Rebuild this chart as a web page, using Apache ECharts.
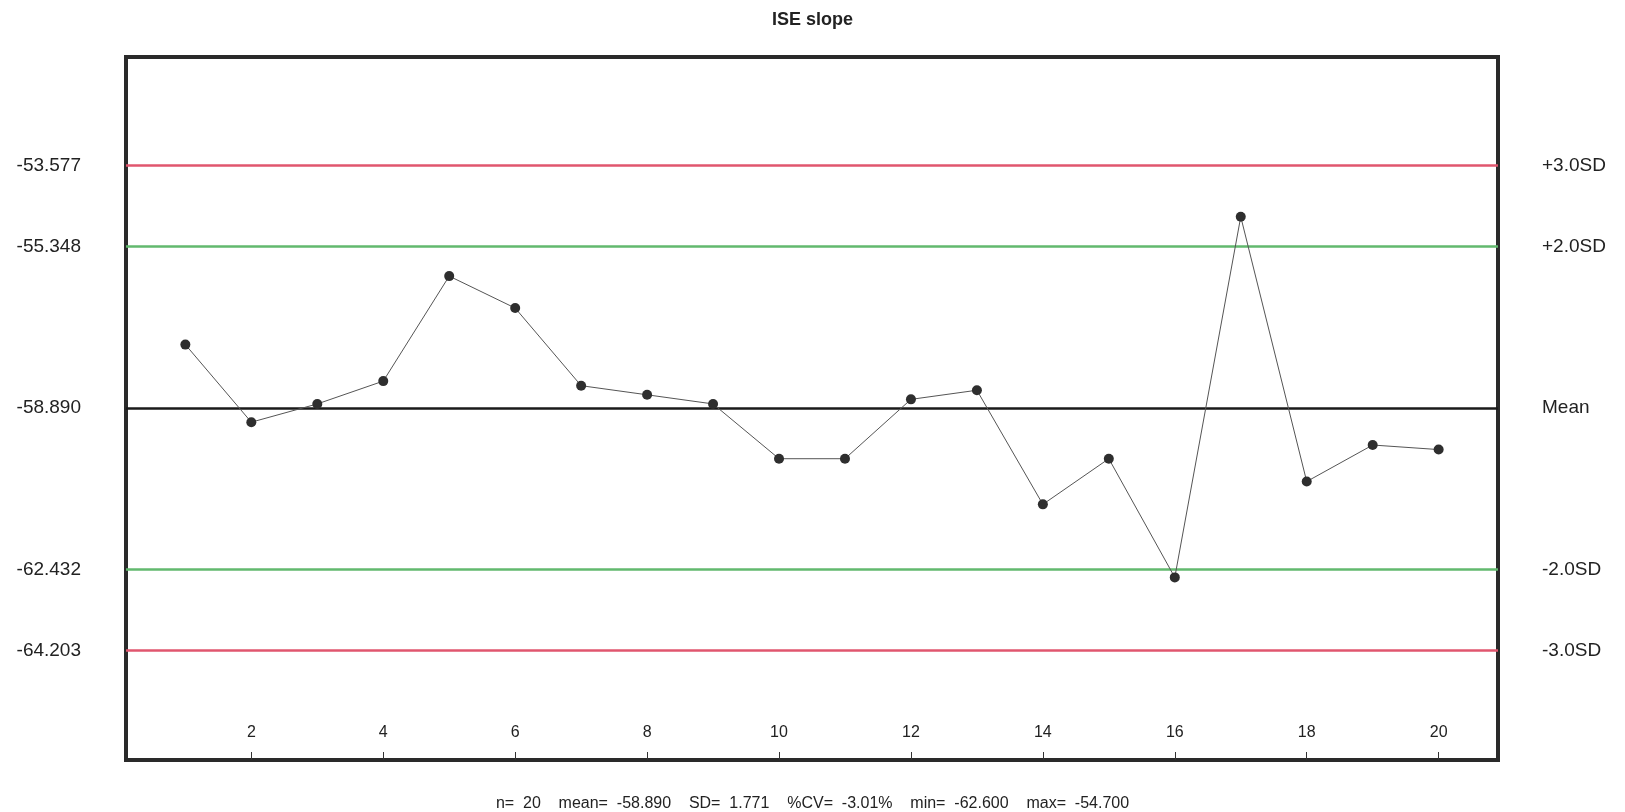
<!DOCTYPE html>
<html>
<head>
<meta charset="utf-8">
<title>ISE slope</title>
<script src="https://cdn.jsdelivr.net/npm/echarts@6/dist/echarts.min.js"></script>
<style>
  html, body { margin: 0; padding: 0; background: #fff; }
  #chart { width: 1625px; height: 812px; }
</style>
</head>
<body>
<div id="chart"></div>
<script>
// run number and measured slope
const runs = [1, 2, 3, 4, 5, 6, 7, 8, 9, 10, 11, 12, 13, 14, 15, 16, 17, 18, 19, 20]
const slope = [-57.5, -59.2, -58.8, -58.3, -56.0, -56.7, -58.4, -58.6, -58.8, -60.0,
  -60.0, -58.7, -58.5, -61.0, -60.0, -62.6, -54.7, -60.5, -59.7, -59.8]

// control limits (mean +/- 2SD, 3SD)
const limitValues = [-53.577, -55.348, -58.890, -62.432, -64.203]
const limitNames = ['+3.0SD', '+2.0SD', 'Mean', '-2.0SD', '-3.0SD']
const limitColors = ['#e0566e', '#62b96e', '#1a1a1a', '#62b96e', '#e0566e']

const xTicks = [2, 4, 6, 8, 10, 12, 14, 16, 18, 20]
const statsText = 'n=  20    mean=  -58.890    SD=  1.771    %CV=  -3.01%    min=  -62.600    max=  -54.700'

const FONT = '"Liberation Sans", Arial, sans-serif'

const chart = echarts.init(document.getElementById('chart'))

const limitLines = limitValues.map((v, i) => ({
  yAxis: v,
  lineStyle: { color: limitColors[i], width: 2.5, type: 'solid' }
}))

const option = {
  animation: false,
  backgroundColor: '#ffffff',
  textStyle: { fontFamily: FONT },
  title: [
    {
      text: 'ISE slope',
      left: 'center',
      top: 6,
      textStyle: { fontFamily: FONT, fontSize: 18, fontWeight: 'bold', color: '#222' }
    },
    {
      text: statsText,
      left: 'center',
      top: 791,
      textStyle: { fontFamily: FONT, fontSize: 16, fontWeight: 'normal', color: '#222' }
    }
  ],
  grid: {
    left: 126,
    right: 127,
    top: 57,
    bottom: 52,
    show: true,
    borderWidth: 4,
    borderColor: '#2a2a2a',
    outerBoundsMode: 'none'
  },
  xAxis: {
    type: 'value',
    min: 0.1,
    max: 20.9,
    axisLine: { show: false },
    splitLine: { show: false },
    axisTick: {
      show: true,
      inside: true,
      length: 8,
      customValues: xTicks,
      lineStyle: { color: '#333', width: 1 }
    },
    axisLabel: {
      inside: true,
      margin: 19,
      customValues: xTicks,
      fontSize: 16,
      color: '#222',
      fontFamily: FONT
    }
  },
  yAxis: [
    {
      type: 'value',
      min: -66.6,
      max: -51.2,
      position: 'left',
      axisLine: { show: false },
      axisTick: { show: false },
      splitLine: { show: false },
      axisLabel: {
        margin: 45,
        customValues: limitValues,
        formatter: v => v.toFixed(3),
        fontSize: 19,
        color: '#222',
        fontFamily: FONT
      }
    },
    {
      type: 'value',
      min: -66.6,
      max: -51.2,
      position: 'right',
      axisLine: { show: false },
      axisTick: { show: false },
      splitLine: { show: false },
      axisLabel: {
        margin: 44,
        customValues: limitValues,
        formatter: v => limitNames[limitValues.indexOf(v)] || '',
        fontSize: 19,
        color: '#222',
        fontFamily: FONT
      }
    }
  ],
  series: [
    {
      name: 'ISE slope',
      type: 'line',
      data: runs.map((r, i) => [r, slope[i]]),
      symbol: 'circle',
      symbolSize: 10,
      z: 5,
      lineStyle: { color: '#555', width: 1 },
      itemStyle: { color: '#2e2e2e' },
      markLine: {
        silent: true,
        symbol: 'none',
        label: { show: false },
        z: 3,
        data: limitLines
      }
    }
  ]
}

chart.setOption(option)
window.onresize = () => {
  chart.resize()
}
</script>
</body>
</html>
